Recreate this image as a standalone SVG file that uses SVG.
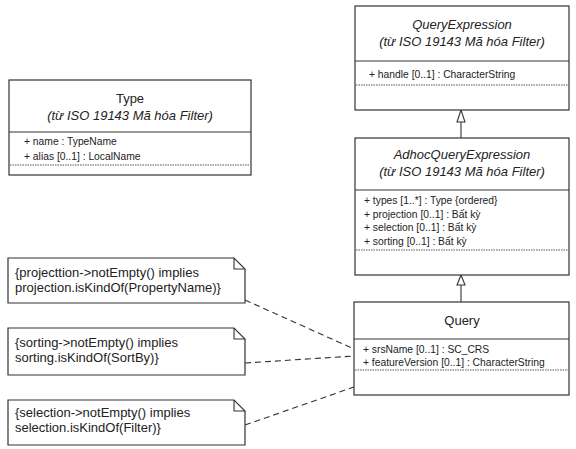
<svg xmlns="http://www.w3.org/2000/svg" width="576" height="449" viewBox="0 0 576 449">
<style>
.box{fill:#fff;stroke:#333;stroke-width:1.2}
.sep{stroke:#333;stroke-width:1}
.dot{stroke:#555;stroke-width:1;stroke-dasharray:1.5 1}
.t{font-family:"Liberation Sans",Arial,sans-serif;font-size:13px;fill:#222;text-anchor:middle}
.i{font-style:italic}
.a{font-family:"Liberation Sans",Arial,sans-serif;font-size:10.3px;fill:#222}
.n{font-family:"Liberation Sans",Arial,sans-serif;font-size:13px;fill:#222}
.c{fill:none;stroke:#333;stroke-width:1.1}
.d{fill:none;stroke:#333;stroke-width:1.1;stroke-dasharray:6 4}
.tri{fill:#fff;stroke:#333;stroke-width:1.1}
</style>
<rect width="576" height="449" fill="#fff"/>
<g id="connectors">
<line class="c" x1="461" y1="122" x2="461" y2="138"/>
<polygon class="tri" points="461,110 457,122 465,122"/>
<line class="c" x1="461" y1="285" x2="461" y2="302"/>
<polygon class="tri" points="461,275 457,285 465,285"/>
<line class="d" x1="245" y1="300" x2="354" y2="349"/>
<line class="d" x1="245" y1="363" x2="354" y2="356"/>
<line class="d" x1="245" y1="425" x2="354" y2="387"/>
</g>
<g id="QueryExpression">
<rect class="box" x="355" y="6" width="214" height="104"/>
<line class="sep" x1="355" y1="61" x2="569" y2="61"/>
<line class="dot" x1="356" y1="85" x2="568" y2="85"/>
<text class="t i" x="462" y="29">QueryExpression</text>
<text class="t i" x="462" y="46">(từ ISO 19143 Mã hóa Filter)</text>
<text class="a" x="369" y="78">+ handle [0..1] : CharacterString</text>
</g>
<g id="AdhocQueryExpression">
<rect class="box" x="355" y="138" width="214" height="137"/>
<line class="sep" x1="355" y1="190" x2="569" y2="190"/>
<line class="dot" x1="356" y1="250" x2="568" y2="250"/>
<text class="t i" x="462" y="159">AdhocQueryExpression</text>
<text class="t i" x="462" y="176">(từ ISO 19143 Mã hóa Filter)</text>
<text class="a" x="364" y="204">+ types [1..*] : Type {ordered}</text>
<text class="a" x="364" y="217.5">+ projection [0..1] : Bất kỳ</text>
<text class="a" x="364" y="231">+ selection [0..1] : Bất kỳ</text>
<text class="a" x="364" y="244.5">+ sorting [0..1] : Bất kỳ</text>
</g>
<g id="Query">
<rect class="box" x="354" y="302" width="215" height="93"/>
<line class="sep" x1="354" y1="339" x2="569" y2="339"/>
<line class="dot" x1="355" y1="370" x2="568" y2="370"/>
<text class="t" x="462" y="325">Query</text>
<text class="a" x="363" y="353">+ srsName [0..1] : SC_CRS</text>
<text class="a" x="363" y="366">+ featureVersion [0..1] : CharacterString</text>
</g>
<g id="Type">
<rect class="box" x="9" y="80" width="242" height="95"/>
<line class="sep" x1="9" y1="132" x2="251" y2="132"/>
<line class="dot" x1="10" y1="165" x2="250" y2="165"/>
<text class="t" x="130" y="103">Type</text>
<text class="t i" x="130" y="120">(từ ISO 19143 Mã hóa Filter)</text>
<text class="a" x="24" y="145">+ name : TypeName</text>
<text class="a" x="24" y="160">+ alias [0..1] : LocalName</text>
</g>
<g id="note1">
<path class="box" d="M8,258 H234 L245,269 V303 H8 Z"/>
<path class="c" d="M234,258 V269 H245"/>
<text class="n" x="15" y="277">{projecttion-&gt;notEmpty() implies</text>
<text class="n" x="15" y="292">projection.isKindOf(PropertyName)}</text>
</g>
<g id="note2">
<path class="box" d="M8,328 H234 L245,339 V375 H8 Z"/>
<path class="c" d="M234,328 V339 H245"/>
<text class="n" x="15" y="347">{sorting-&gt;notEmpty() implies</text>
<text class="n" x="15" y="362">sorting.isKindOf(SortBy)}</text>
</g>
<g id="note3">
<path class="box" d="M8,400 H234 L245,411 V445 H8 Z"/>
<path class="c" d="M234,400 V411 H245"/>
<text class="n" x="15" y="417">{selection-&gt;notEmpty() implies</text>
<text class="n" x="15" y="432">selection.isKindOf(Filter)}</text>
</g>
</svg>
